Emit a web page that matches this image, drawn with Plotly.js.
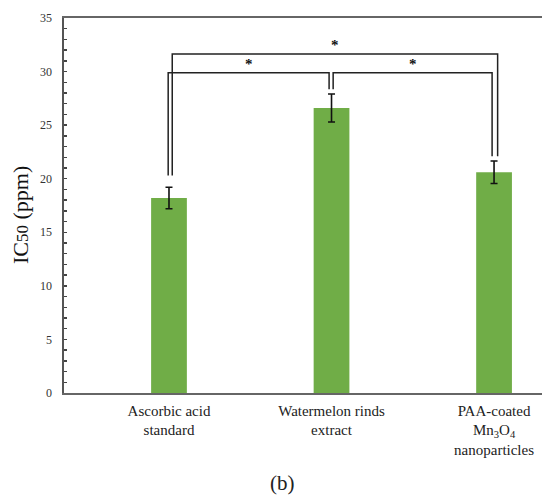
<!DOCTYPE html>
<html>
<head>
<meta charset="utf-8">
<script src="https://cdn.plot.ly/plotly-3.0.1.min.js"></script>
<style>html,body{margin:0;padding:0;background:#fff;}#chart{width:542px;height:498px;}</style>
</head>
<body>
<div id="chart"></div>
<script>
// ---- data ----
const categories = ['Ascorbic acid<br>standard', 'Watermelon rinds<br>extract', 'PAA-coated<br>Mn<sub>3</sub>O<sub>4</sub><br>nanoparticles'];
const ic50 = [18.2, 26.6, 20.6];
const ic50Err = [1.0, 1.3, 1.05];
const yTicks = [0, 5, 10, 15, 20, 25, 30, 35];
// significance comparisons: pairs of category indices, bracket level (ppm), label
const compPairs = [[0, 1], [1, 2], [0, 2]];
const compLevels = [29.9, 29.9, 31.65];
const compLabels = ['*', '*', '*'];

// ---- styling helpers ----
const SERIF = 'Liberation Serif';
const legGap = [[1.1, 0.45], [0.45, 0.45], [1.1, 0.45]];
const legOffset = [[-0.005, -0.015], [0.01, -0.012], [0.02, 0.022]];
const xIdx = categories.map((c, i) => i);

const shapes = [];
const annotations = [];
compPairs.forEach((p, k) => {
  const a = p[0], b = p[1];
  const xa = a + legOffset[k][0], xb = b + legOffset[k][1];
  const ya = ic50[a] + ic50Err[a] + legGap[k][0];
  const yb = ic50[b] + ic50Err[b] + legGap[k][1];
  const lvl = compLevels[k];
  shapes.push({
    type: 'path', xref: 'x', yref: 'y',
    path: `M ${xa} ${ya} L ${xa} ${lvl} L ${xb} ${lvl} L ${xb} ${yb}`,
    line: {color: '#222', width: 1.5}
  });
  annotations.push({
    x: (xa + xb) / 2, y: lvl, xref: 'x', yref: 'y', text: '<b>' + compLabels[k] + '</b>',
    showarrow: false, yanchor: 'bottom', yshift: -1,
    font: {family: SERIF, size: 15, color: '#111'}
  });
});
// y-axis title
annotations.push({
  x: (20 - 64) / 478, y: (393 - 215) / 375, xref: 'paper', yref: 'paper',
  xanchor: 'center', yanchor: 'middle', textangle: -90, showarrow: false,
  text: 'IC<span style="font-size:17px">50</span> (ppm)',
  font: {family: SERIF, size: 22, color: '#111'}
});
// panel label
annotations.push({
  x: (282 - 64) / 478, y: -(483 - 393) / 375, xref: 'paper', yref: 'paper',
  xanchor: 'center', yanchor: 'middle',
  text: '(b)', showarrow: false,
  font: {family: SERIF, size: 21, color: '#222'}
});

const trace = {
  type: 'bar', x: xIdx, y: ic50, width: 0.22,
  marker: {color: '#70AD47'},
  error_y: {type: 'data', array: ic50Err, visible: true, color: '#111', thickness: 1.6, width: 3.5},
  hoverinfo: 'skip'
};

const layout = {
  width: 542, height: 498,
  margin: {l: 64, r: 0, t: 18, b: 105},
  paper_bgcolor: '#fff', plot_bgcolor: '#fff',
  showlegend: false,
  font: {family: SERIF, color: '#222'},
  xaxis: {
    range: [-0.646, 2.295], tickvals: xIdx, ticktext: categories,
    showgrid: false, zeroline: false, ticks: '',
    showline: true, linecolor: '#666', linewidth: 1.6, mirror: true,
    tickangle: 0, ticklabelstandoff: 3,
    tickfont: {family: SERIF, size: 15, color: '#222'}
  },
  yaxis: {
    range: [0, 35], tickvals: yTicks, showgrid: false, zeroline: false,
    showline: true, linecolor: '#555', linewidth: 1.6,
    ticks: 'inside', ticklen: 3, tickwidth: 1.3, tickcolor: '#444',
    minor: {dtick: 1, ticks: 'inside', ticklen: 3, tickwidth: 1.3, tickcolor: '#444'},
    ticklabelstandoff: 8,
    tickfont: {family: SERIF, size: 12, color: '#333'}
  },
  shapes: shapes,
  annotations: annotations
};

Plotly.newPlot('chart', [trace], layout, {displayModeBar: false, staticPlot: true});
</script>
</body>
</html>
